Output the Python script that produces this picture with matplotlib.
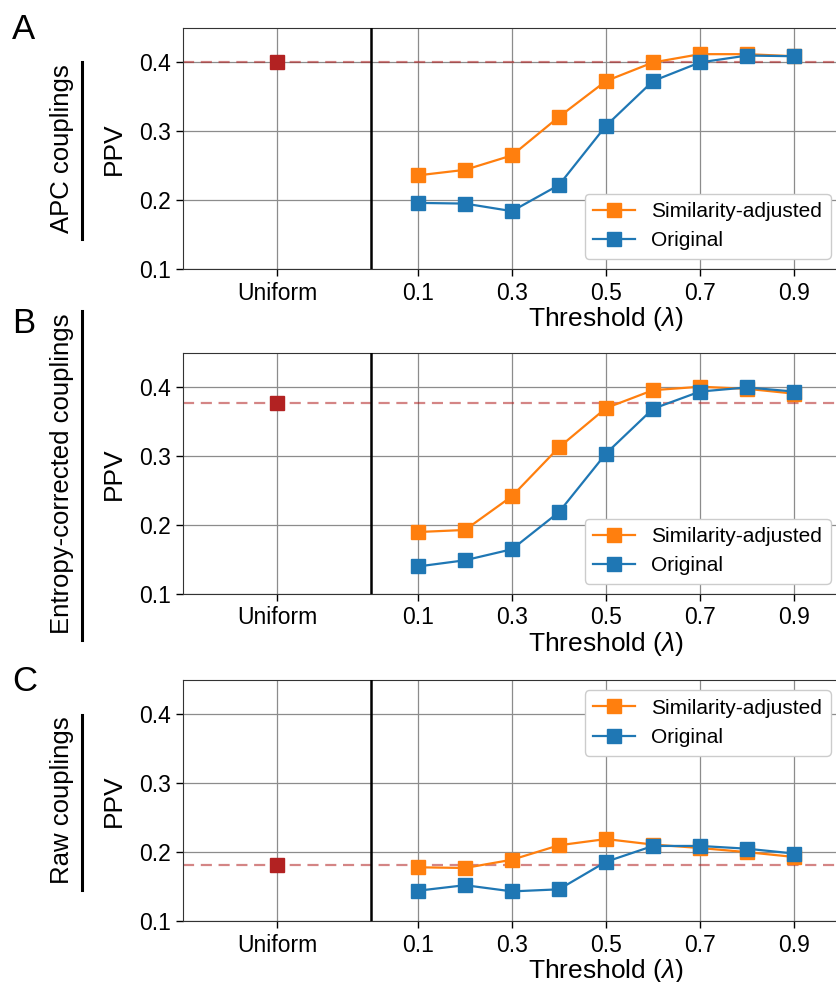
import matplotlib
matplotlib.use("Agg")
import matplotlib.pyplot as plt
from matplotlib.lines import Line2D

plt.rcParams['font.family'] = ['Liberation Sans', 'DejaVu Sans']
plt.rcParams['mathtext.fontset'] = 'custom'
plt.rcParams['mathtext.it'] = 'Liberation Sans:italic'
plt.rcParams['mathtext.rm'] = 'Liberation Sans'

# 閾値と各パネルのPPV
thresholds = [0.1, 0.2, 0.3, 0.4, 0.5, 0.6, 0.7, 0.8, 0.9]
apc_sim = [0.236, 0.244, 0.265, 0.321, 0.373, 0.400, 0.412, 0.412, 0.409]
apc_orig = [0.196, 0.195, 0.184, 0.222, 0.308, 0.373, 0.400, 0.410, 0.409]
apc_uniform = 0.401
ec_sim = [0.190, 0.193, 0.242, 0.313, 0.370, 0.396, 0.401, 0.398, 0.391]
ec_orig = [0.140, 0.149, 0.165, 0.219, 0.304, 0.369, 0.394, 0.400, 0.394]
ec_uniform = 0.378
raw_sim = [0.178, 0.177, 0.189, 0.210, 0.219, 0.211, 0.206, 0.200, 0.193]
raw_orig = [0.144, 0.152, 0.143, 0.146, 0.186, 0.209, 0.209, 0.205, 0.198]
raw_uniform = 0.182

uniform_x = -0.2
xtick_pos = [-0.2, 0.1, 0.3, 0.5, 0.7, 0.9]
xtick_labels = ["Uniform", "0.1", "0.3", "0.5", "0.7", "0.9"]
yticks = [0.1, 0.2, 0.3, 0.4]

panels = [
    ("A", "APC couplings", apc_sim, apc_orig, apc_uniform, "lower right"),
    ("B", "Entropy-corrected couplings", ec_sim, ec_orig, ec_uniform, "lower right"),
    ("C", "Raw couplings", raw_sim, raw_orig, raw_uniform, "upper right"),
]

W, H = 836, 982
fig = plt.figure(figsize=(W / 100, H / 100), dpi=100)

ax_tops = [28, 353, 680]
ax_h = 241
letter_tops = [13, 307, 665]

for (letter, rowlab, sim, orig, uni, legloc), top, ltop in zip(panels, ax_tops, letter_tops):
    ax = fig.add_axes([183 / W, 1 - (top + ax_h) / H, 658 / W, ax_h / H])
    ax.grid(True, color="0.55", lw=0.9, zorder=0)
    ax.set_axisbelow(True)
    ax.axhline(uni, color="firebrick", alpha=0.55, ls="--", lw=1.6, dashes=(5, 3), zorder=2)
    ax.axvline(0.0, color="black", lw=1.8, zorder=3)
    ax.plot([uniform_x], [uni], "s", color="firebrick", ms=9.5, zorder=5)
    ax.plot(thresholds, sim, "-s", color="tab:orange", lw=1.6, ms=9.8,
            label="Similarity-adjusted", zorder=4)
    ax.plot(thresholds, orig, "-s", color="tab:blue", lw=1.6, ms=9.8,
            label="Original", zorder=4)
    ax.set_xlim(-0.4, 1.0)
    ax.set_ylim(0.1, 0.45)
    ax.set_xticks(xtick_pos)
    ax.set_xticklabels(xtick_labels)
    ax.set_yticks(yticks)
    ax.tick_params(labelsize=16.5, length=5, width=1, pad=4)
    ax.set_ylabel("PPV", fontsize=19, labelpad=9)
    ax.set_xlabel(r"Threshold ($\lambda$)", fontsize=19)
    ax.xaxis.set_label_coords(0.643, -0.148, transform=ax.transAxes)
    ax.xaxis.label.set_va("top")
    for s in ax.spines.values():
        s.set_color("0.2")
    ax.legend(loc=legloc, fontsize=15, framealpha=1, edgecolor="0.8",
              handlelength=2.0, borderaxespad=0.5)

    cy = 1 - (top + ax_h / 2) / H
    t = fig.text(62 / W, cy, rowlab, rotation=90, fontsize=18.5, ha="center", va="center")
    fig.text(12 / W, 1 - ltop / H, letter, fontsize=25, ha="left", va="top")

    fig.canvas.draw()
    bb = t.get_window_extent()
    fig.add_artist(Line2D([82 / W, 82 / W], [(bb.y0 - 6) / H, (bb.y1 + 2) / H],
                          transform=fig.transFigure, color="black", lw=2.2))

fig.savefig("out.png", dpi=100)
